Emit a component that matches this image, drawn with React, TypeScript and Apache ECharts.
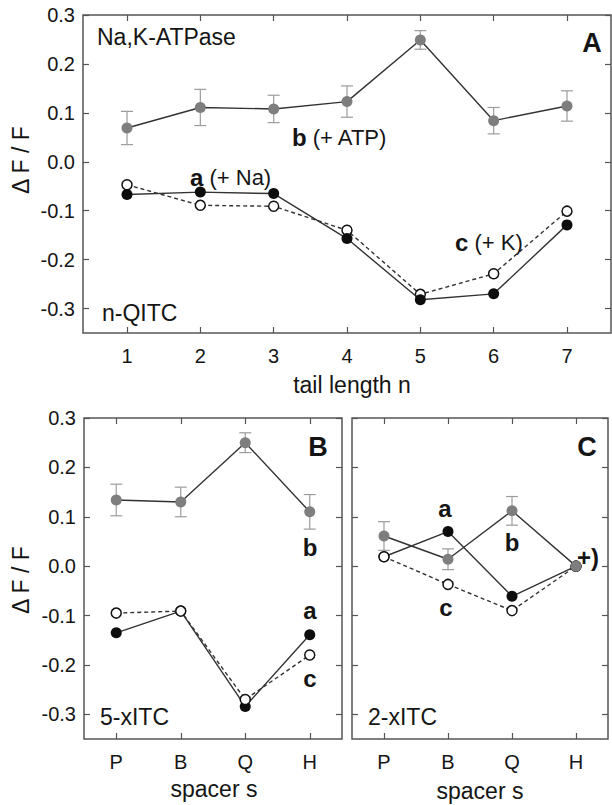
import React, { useEffect, useRef } from "react";
import * as echarts from "echarts";

// Panel A: n-QITC, tail length n
const tailLengths = [1, 2, 3, 4, 5, 6, 7];
const aNa = [-0.067, -0.062, -0.065, -0.157, -0.282, -0.27, -0.129];
const cK = [-0.047, -0.089, -0.091, -0.14, -0.271, -0.229, -0.101];
const bATP = [0.069, 0.111, 0.108, 0.123, 0.249, 0.084, 0.114];
const bATPErr = [0.034, 0.037, 0.028, 0.032, 0.019, 0.027, 0.031];

// Panels B and C: spacer s
const spacers = ["P", "B", "Q", "H"];
// B: 5-xITC
const b5a = [-0.135, -0.091, -0.284, -0.139];
const b5c = [-0.095, -0.091, -0.27, -0.18];
const b5b = [0.134, 0.13, 0.25, 0.11];
const b5bErr = [0.032, 0.03, 0.02, 0.035];
// C: 2-xITC
const c2a = [0.019, 0.07, -0.061, 0.0];
const c2c = [0.019, -0.037, -0.09, 0.0];
const c2b = [0.061, 0.014, 0.112, 0.0];
const c2bErr = [0.029, 0.021, 0.029, 0];

const yTicks = [-0.3, -0.2, -0.1, 0, 0.1, 0.2, 0.3];

const FONT = "'Liberation Sans', Arial, Helvetica, sans-serif";
const TXT = "#151515";
const FRAME = "#555";
const LINE = "#333";
const GREY = "#7e7e7e";

export default function App() {
  const ref = useRef<HTMLDivElement>(null);
  useEffect(() => {
    if (!ref.current) return;
    document.body.style.margin = "0";
    const chart = echarts.init(ref.current, undefined, { renderer: "svg" });

    const grids = [
      { left: 83, top: 15, width: 528, height: 318 },
      { left: 84, top: 418, width: 258, height: 321 },
      { left: 352, top: 418, width: 256, height: 321 },
    ].map((g) => ({ ...g, show: true, borderColor: FRAME, borderWidth: 1.5, backgroundColor: "transparent" }));

    const tickStyle = { show: true, inside: true, length: 6, lineStyle: { color: FRAME, width: 1.2 } };
    const labelStyle = { color: TXT, fontSize: 20, fontFamily: FONT };
    const noLine = { show: false, onZero: false };

    const xA = (pos: string, idx: number, showLabel: boolean) => ({
      type: "value",
      gridIndex: idx,
      position: pos,
      min: 0.4,
      max: 7.6,
      axisLine: noLine,
      splitLine: { show: false },
      axisTick: { ...tickStyle, customValues: tailLengths },
      axisLabel: { ...labelStyle, show: showLabel, margin: 13, customValues: tailLengths, formatter: (v: number) => String(v) },
    });
    const xCat = (pos: string, idx: number, showLabel: boolean) => ({
      type: "category",
      gridIndex: idx,
      position: pos,
      data: spacers,
      boundaryGap: true,
      axisLine: noLine,
      splitLine: { show: false },
      axisTick: { ...tickStyle, alignWithLabel: true },
      axisLabel: { ...labelStyle, show: showLabel, margin: 13 },
    });
    const yAx = (pos: string, idx: number, showLabel: boolean) => ({
      type: "value",
      gridIndex: idx,
      position: pos,
      min: -0.35,
      max: 0.3,
      axisLine: noLine,
      splitLine: { show: false },
      axisTick: { ...tickStyle, customValues: yTicks },
      axisLabel: { ...labelStyle, show: showLabel, margin: 8, customValues: yTicks, formatter: (v: number) => v.toFixed(1) },
    });

    const xAxis = [
      xA("bottom", 0, true), xA("top", 0, false),
      xCat("bottom", 1, true), xCat("top", 1, false),
      xCat("bottom", 2, true), xCat("top", 2, false),
    ];
    const yAxis = [
      yAx("left", 0, true), yAx("right", 0, false),
      yAx("left", 1, true), yAx("right", 1, false),
      yAx("left", 2, false), yAx("right", 2, false),
    ];

    const errSeries = (xi: number, data: number[][]) => ({
      type: "custom",
      xAxisIndex: xi,
      yAxisIndex: xi,
      z: 1,
      data,
      renderItem: (_p: any, api: any) => {
        const x = api.value(0);
        const y = api.value(1);
        const e = api.value(2);
        if (!e) return null;
        const top = api.coord([x, y + e]);
        const bot = api.coord([x, y - e]);
        const hw = 6;
        const st = { stroke: "#9c9c9c", lineWidth: 1.2 };
        return {
          type: "group",
          children: [
            { type: "line", shape: { x1: top[0], y1: top[1], x2: bot[0], y2: bot[1] }, style: st },
            { type: "line", shape: { x1: top[0] - hw, y1: top[1], x2: top[0] + hw, y2: top[1] }, style: st },
            { type: "line", shape: { x1: bot[0] - hw, y1: bot[1], x2: bot[0] + hw, y2: bot[1] }, style: st },
          ],
        };
      },
    });

    const lineS = (xi: number, data: any[], kind: "filled" | "open" | "grey", z: number) => ({
      type: "line",
      xAxisIndex: xi,
      yAxisIndex: xi,
      data,
      z,
      symbol: "circle",
      symbolSize: kind === "open" ? 10 : 11,
      lineStyle: { color: LINE, width: 1.4, type: kind === "open" ? [4, 3] : "solid" },
      itemStyle:
        kind === "open"
          ? { color: "#fff", borderColor: "#111", borderWidth: 1.5 }
          : kind === "filled"
          ? { color: "#0d0d0d", borderWidth: 0 }
          : { color: GREY, borderWidth: 0 },
    });

    const series = [
      errSeries(0, tailLengths.map((n, i) => [n, bATP[i], bATPErr[i]])),
      lineS(0, tailLengths.map((n, i) => [n, cK[i]]), "open", 2),
      lineS(0, tailLengths.map((n, i) => [n, aNa[i]]), "filled", 3),
      lineS(0, tailLengths.map((n, i) => [n, bATP[i]]), "grey", 4),

      errSeries(2, spacers.map((_s, i) => [i, b5b[i], b5bErr[i]])),
      lineS(2, b5a, "filled", 2),
      lineS(2, b5c, "open", 3),
      lineS(2, b5b, "grey", 4),

      errSeries(4, spacers.map((_s, i) => [i, c2b[i], c2bErr[i]])),
      lineS(4, c2a, "filled", 2),
      lineS(4, c2c, "open", 3),
      lineS(4, c2b, "grey", 4),
    ];

    const t = (text: string, x: number, y: number, size: number, opts: any = {}) => ({
      type: "text",
      x,
      y,
      rotation: opts.rotation || 0,
      z: 100,
      style: {
        text,
        fill: TXT,
        fontSize: size,
        fontFamily: FONT,
        fontWeight: opts.bold ? "bold" : "normal",
        align: opts.align || "left",
        verticalAlign: "middle",
        rich: opts.rich,
      },
    });
    const richB = { bb: { fontWeight: "bold", fontSize: 24, fontFamily: FONT, fill: TXT } };

    const graphic = [
      t("Na,K-ATPase", 97, 37, 23),
      t("A", 592, 43, 27, { bold: true, align: "center" }),
      t("{bb|b} (+ ATP)", 292, 137, 22, { rich: richB }),
      t("{bb|a} (+ Na)", 190, 177, 22, { rich: richB }),
      t("{bb|c} (+ K)", 455, 242, 22, { rich: richB }),
      t("n-QITC", 102, 313, 23),
      t("tail length n", 352, 385, 23, { align: "center" }),
      t("Δ F / F", 21, 160, 23, { align: "center", rotation: Math.PI / 2 }),
      t("Δ F / F", 21, 580, 23, { align: "center", rotation: Math.PI / 2 }),
      t("B", 318, 447, 27, { bold: true, align: "center" }),
      t("C", 587, 447, 27, { bold: true, align: "center" }),
      t("5-xITC", 100, 717, 23),
      t("2-xITC", 368, 717, 23),
      t("b", 310, 547, 24, { bold: true, align: "center" }),
      t("a", 310, 610, 24, { bold: true, align: "center" }),
      t("c", 310, 678, 24, { bold: true, align: "center" }),
      t("a", 445, 508, 24, { bold: true, align: "center" }),
      t("b", 512, 542, 24, { bold: true, align: "center" }),
      t("c", 446, 607, 24, { bold: true, align: "center" }),
      t("+)", 588, 557, 24, { bold: true, align: "center" }),
      t("spacer s", 214, 789, 23, { align: "center" }),
      t("spacer s", 480, 791, 23, { align: "center" }),
    ];

    chart.setOption({
      animation: false,
      backgroundColor: "#fff",
      grid: grids,
      xAxis,
      yAxis,
      series,
      graphic,
    });
    return () => chart.dispose();
  }, []);
  return <div ref={ref} style={{ position: "absolute", left: 0, top: 0, width: 612, height: 805 }} />;
}
